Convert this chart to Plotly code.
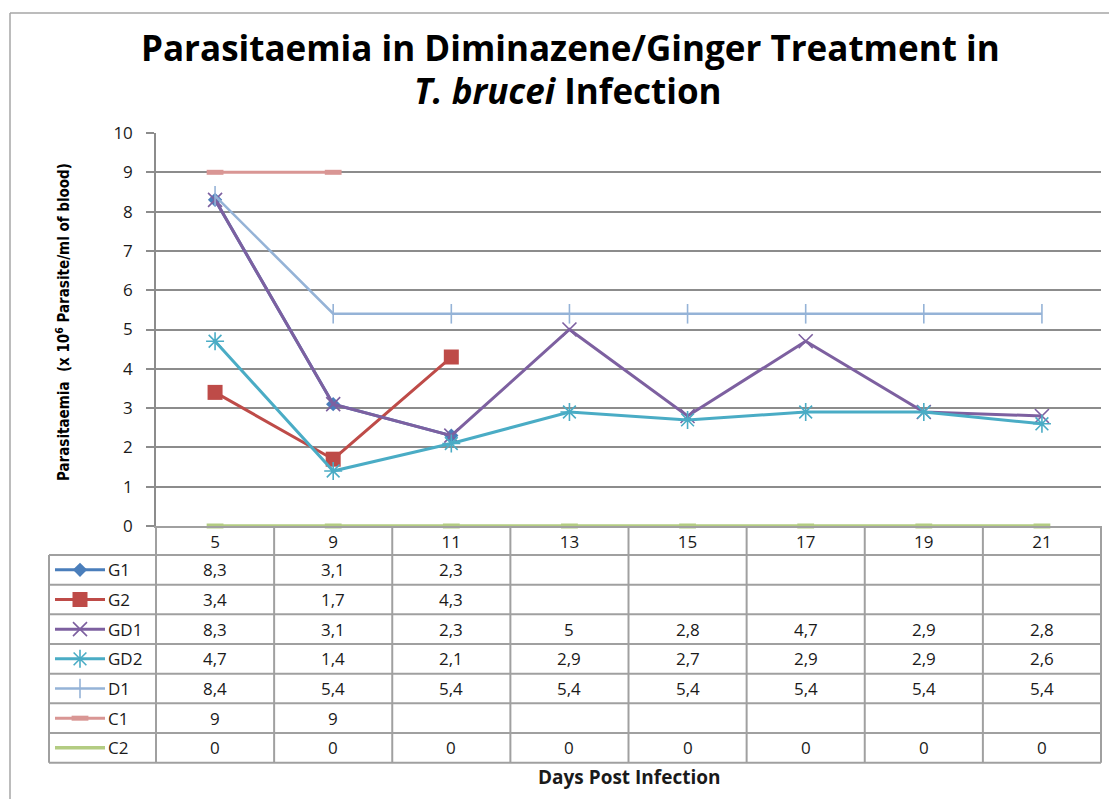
import plotly.graph_objects as go

# ---------------- data ----------------
days = ["5", "9", "11", "13", "15", "17", "19", "21"]
series_names = ["G1", "G2", "GD1", "GD2", "D1", "C1", "C2"]
G1 = [8.3, 3.1, 2.3, None, None, None, None, None]
G2 = [3.4, 1.7, 4.3, None, None, None, None, None]
GD1 = [8.3, 3.1, 2.3, 5, 2.8, 4.7, 2.9, 2.8]
GD2 = [4.7, 1.4, 2.1, 2.9, 2.7, 2.9, 2.9, 2.6]
D1 = [8.4, 5.4, 5.4, 5.4, 5.4, 5.4, 5.4, 5.4]
C1 = [9, 9, None, None, None, None, None, None]
C2 = [0, 0, 0, 0, 0, 0, 0, 0]
y_ticks = [0, 1, 2, 3, 4, 5, 6, 7, 8, 9, 10]

series_values = [G1, G2, GD1, GD2, D1, C1, C2]

# ---------------- layout geometry (page pixels, page has 8px body margin) ----------------
OFF = 8
W, H = 1117 - 2 * OFF, 807 - 2 * OFF


def px(p):
    return p - OFF


PL, PR, PT, PB = px(156), px(1101), px(133), px(526)   # plot area
ROW0, ROWH = px(555), 29.67
LEG_L = px(49)
FONT = "'Open Sans', Lato, sans-serif"
GRID = "#8c8c8c"
TABLE_LINE = "#a0a0a0"
TXT = "#1a1a1a"

styles = {
    "G1": dict(color="#4A7EBB", symbol="diamond", size=11, mlw=0, width=3),
    "G2": dict(color="#BE4B48", symbol="square", size=15, mlw=0, width=3),
    "GD1": dict(color="#7D60A0", symbol="x-thin-open", size=14, mlw=1.6, width=3),
    "GD2": dict(color="#4AACC5", symbol="asterisk-open", size=15, mlw=1.6, width=3),
    "D1": dict(color="#95B3D7", symbol="line-ns-open", size=14, mlw=1.6, width=2.6),
    "C1": dict(color="#D99694", symbol="line-ew-open", size=12, mlw=5, width=3),
    "C2": dict(color="#B3CC82", symbol="line-ew-open", size=12, mlw=5, width=3.5),
}


def fmt(v):
    if v is None:
        return ""
    if float(v) == int(v):
        return str(int(v))
    return f"{v:.1f}".replace(".", ",")


fig = go.Figure()
xs = list(range(len(days)))

for name, vals in zip(series_names, series_values):
    s = styles[name]
    marker = dict(symbol=s["symbol"], size=s["size"], color=s["color"])
    if s["mlw"]:
        marker["line"] = dict(color=s["color"], width=s["mlw"])
    fig.add_trace(go.Scatter(
        x=xs, y=vals, mode="lines+markers", name=name,
        line=dict(color=s["color"], width=s["width"]),
        marker=marker, connectgaps=False, cliponaxis=False,
        xaxis="x", yaxis="y", showlegend=False,
    ))

# legend samples in the table (pixel overlay axes)
for i, name in enumerate(series_names):
    s = styles[name]
    yc = ROW0 + (i + 0.5) * ROWH
    marker = dict(symbol=s["symbol"], size=s["size"], color=s["color"])
    if s["mlw"]:
        marker["line"] = dict(color=s["color"], width=s["mlw"])
    fig.add_trace(go.Scatter(
        x=[px(55), px(105)], y=[yc, yc], mode="lines",
        line=dict(color=s["color"], width=s["width"]),
        xaxis="x2", yaxis="y2", showlegend=False, hoverinfo="skip"))
    if name != "C2":
        fig.add_trace(go.Scatter(
            x=[px(80)], y=[yc], mode="markers", marker=marker,
            xaxis="x2", yaxis="y2", showlegend=False, hoverinfo="skip"))

shapes = []
# outer chart border (left and top edges visible in the frame)
shapes.append(dict(type="line", xref="paper", yref="paper", x0=px(10) / W, x1=px(10) / W,
                   y0=1 - px(13) / H, y1=0, line=dict(color="#a6a6a6", width=1.5)))
shapes.append(dict(type="line", xref="paper", yref="paper", x0=px(10) / W, x1=1,
                   y0=1 - px(13) / H, y1=1 - px(13) / H, line=dict(color="#a6a6a6", width=1.5)))
colw = (PR - PL) / len(days)
table_bottom = ROW0 + len(series_names) * ROWH
for k in range(len(days) + 1):
    x = PL + k * colw
    shapes.append(dict(type="line", xref="x2", yref="y2", x0=x, x1=x, y0=PB, y1=table_bottom,
                       line=dict(color=TABLE_LINE, width=2)))
shapes.append(dict(type="line", xref="x2", yref="y2", x0=LEG_L, x1=LEG_L, y0=ROW0, y1=table_bottom,
                   line=dict(color=TABLE_LINE, width=2)))
for i in range(len(series_names) + 1):
    y = ROW0 + i * ROWH
    shapes.append(dict(type="line", xref="x2", yref="y2", x0=LEG_L, x1=PR, y0=y, y1=y,
                       line=dict(color=TABLE_LINE, width=2)))

annotations = []
for i, (name, vals) in enumerate(zip(series_names, series_values)):
    yc = ROW0 + (i + 0.5) * ROWH
    annotations.append(dict(x=px(106), y=yc, xref="x2", yref="y2", text=name, showarrow=False,
                            xanchor="left", yanchor="middle",
                            font=dict(family=FONT, size=17, color=TXT)))
    for j, v in enumerate(vals):
        if v is None:
            continue
        annotations.append(dict(x=j, y=yc, xref="x", yref="y2", text=fmt(v), showarrow=False,
                                xanchor="center", yanchor="middle",
                                font=dict(family=FONT, size=17, color=TXT)))

# titles
annotations.append(dict(x=px(570), y=px(47), xref="x2", yref="y2", showarrow=False,
                        text="<b>Parasitaemia in Diminazene/Ginger Treatment in</b>",
                        font=dict(family=FONT, size=35, color="#000000")))
annotations.append(dict(x=px(568), y=px(90), xref="x2", yref="y2", showarrow=False,
                        text="<b><i>T. brucei</i> Infection</b>",
                        font=dict(family=FONT, size=35, color="#000000")))
annotations.append(dict(x=px(63), y=px(322), xref="x2", yref="y2", showarrow=False, textangle=-90,
                        text="<b>Parasitaemia  (x 10<sup>6</sup> Parasite/ml of blood)</b>",
                        font=dict(family="'Liberation Sans Narrow', 'DejaVu Sans Condensed', sans-serif",
                                  size=15, color="#000000")))
annotations.append(dict(x=px(629), y=px(777), xref="x2", yref="y2", showarrow=False,
                        text="<b>Days Post Infection</b>",
                        font=dict(family=FONT, size=19, color=TXT)))

fig.update_layout(
    width=W, height=H, margin=dict(l=0, r=0, t=0, b=0, pad=0), autosize=False,
    paper_bgcolor="white", plot_bgcolor="rgba(0,0,0,0)",
    template="none", showlegend=False,
    shapes=shapes, annotations=annotations,
    xaxis=dict(domain=[PL / W, PR / W], range=[-0.5, len(days) - 0.5],
               tickmode="array", tickvals=xs, ticktext=days, showgrid=False, zeroline=False,
               showline=True, linecolor=TABLE_LINE, linewidth=2, ticks="",
               tickfont=dict(family=FONT, size=17, color=TXT), automargin=False,
               anchor="y", fixedrange=True),
    yaxis=dict(domain=[(H - PB) / H, (H - PT) / H], range=[0, 10], tickmode="array",
               tickvals=y_ticks, showgrid=True, gridcolor=GRID, gridwidth=1.5,
               zeroline=False, showline=True, linecolor=GRID, linewidth=1.5,
               ticks="outside", ticklen=8, tickcolor=GRID, tickwidth=1.5,
               ticklabelstandoff=10,
               tickfont=dict(family=FONT, size=17, color=TXT), automargin=False,
               anchor="x", fixedrange=True),
    xaxis2=dict(domain=[0, 1], range=[0, W], visible=False, anchor="y2", fixedrange=True),
    yaxis2=dict(domain=[0, 1], range=[H, 0], visible=False, anchor="x2", fixedrange=True),
)

fig.write_html("out.html", config={"responsive": False})
